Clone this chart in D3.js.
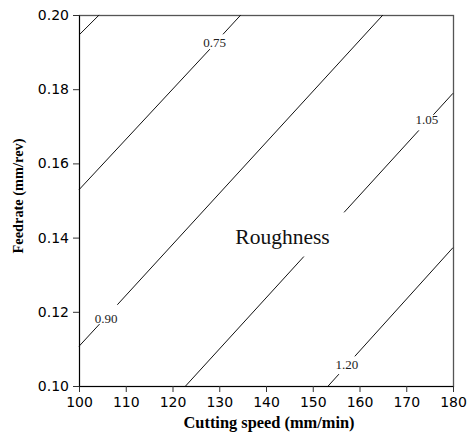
<!DOCTYPE html>
<html>
<head>
<meta charset="utf-8">
<script src="https://cdn.jsdelivr.net/npm/d3@7"></script>
<style>
  body { margin: 0; background: #fff; }
  svg { display: block; }
</style>
</head>
<body>
<div id="chart"></div>
<script>
// tick values
const speedTicks = [100, 110, 120, 130, 140, 150, 160, 170, 180];
const feedTicks = [0.10, 0.12, 0.14, 0.16, 0.18, 0.20];

// contour levels (roughness) and the points: [speed, feedrate]
// null = a break in the line (where a label sits)
const levels = ["0.60", "0.75", "0.90", "1.05", "1.20"];
const line060 = [[100, 0.1946], [104.3, 0.2]];
const line075 = [[100, 0.1529], [128.0, 0.1908], null, [130.8, 0.1948], [134.6, 0.2]];
const line090 = [[100, 0.1107], [104.4, 0.1167], null, [108.2, 0.1219], [165.0, 0.2]];
const line105 = [[122.8, 0.1], [148.1, 0.1349], null, [156.7, 0.1468], [172.7, 0.1689], null, [175.8, 0.1731], [180, 0.1789]];
const line120 = [[153.3, 0.1], [155.6, 0.1032], null, [159.0, 0.1080], [180, 0.1373]];
const contourLines = [line060, line075, line090, line105, line120];

// where the level labels sit: [speed, feedrate]
const labelLevels = ["0.75", "0.90", "1.05", "1.20"];
const labelSpots = [[129.0, 0.1927], [105.8, 0.1182], [174.4, 0.1718], [157.3, 0.1057]];

const W = 468, H = 437;
const margin = { top: 15, right: 15, bottom: 51, left: 79 };

const svg = d3.select("#chart")
  .append("svg")
  .attr("width", W)
  .attr("height", H);

const x = d3.scaleLinear().domain([100, 180]).range([margin.left, W - margin.right]);
const y = d3.scaleLinear().domain([0.10, 0.20]).range([H - margin.bottom, margin.top]);

// frame
svg.append("rect")
  .attr("x", x(100) + 0.5)
  .attr("y", y(0.2) + 0.5)
  .attr("width", x(180) - x(100))
  .attr("height", y(0.1) - y(0.2))
  .attr("fill", "none")
  .attr("stroke", "#555")
  .attr("stroke-width", 1.3);

// contour lines
const line = d3.line()
  .defined((d) => d !== null)
  .x((d) => x(d[0]))
  .y((d) => y(d[1]));

svg.append("g")
  .selectAll("path")
  .data(contourLines)
  .join("path")
  .attr("d", line)
  .attr("fill", "none")
  .attr("stroke", "#111")
  .attr("stroke-width", 1);

// level labels
svg.append("g")
  .selectAll("text")
  .data(labelLevels)
  .join("text")
  .attr("x", (d, i) => x(labelSpots[i][0]))
  .attr("y", (d, i) => y(labelSpots[i][1]))
  .attr("dy", "0.35em")
  .attr("text-anchor", "middle")
  .style("font-family", "'Liberation Serif', 'Times New Roman', serif")
  .style("font-size", "13px")
  .attr("fill", "#222")
  .text((d) => d);

// axes
const xAxis = svg.append("g")
  .attr("transform", `translate(0,${y(0.1)})`)
  .call(d3.axisBottom(x).tickValues(speedTicks).tickSize(6).tickPadding(5).tickSizeOuter(0));
const yAxis = svg.append("g")
  .attr("transform", `translate(${x(100)},0)`)
  .call(d3.axisLeft(y).tickValues(feedTicks).tickFormat(d3.format(".2f")).tickSize(6).tickPadding(4).tickSizeOuter(0));

[xAxis, yAxis].forEach((g) => {
  g.selectAll("text")
    .style("font-family", "'DejaVu Sans', Verdana, sans-serif")
    .style("font-size", "14px")
    .attr("fill", "#000");
  g.selectAll(".tick line").attr("stroke", "#333");
  g.select(".domain").attr("stroke", "#000");
});

// titles
svg.append("text")
  .attr("x", 269)
  .attr("y", 428)
  .attr("text-anchor", "middle")
  .style("font-family", "'Liberation Serif', 'Times New Roman', serif")
  .style("font-weight", "bold")
  .style("font-size", "17px")
  .attr("textLength", 171)
  .attr("lengthAdjust", "spacingAndGlyphs")
  .text("Cutting speed (mm/min)");

svg.append("text")
  .attr("transform", "translate(23,196) rotate(-90)")
  .attr("text-anchor", "middle")
  .style("font-family", "'Liberation Serif', 'Times New Roman', serif")
  .style("font-weight", "bold")
  .style("font-size", "15px")
  .attr("textLength", 115)
  .attr("lengthAdjust", "spacingAndGlyphs")
  .text("Feedrate (mm/rev)");

svg.append("text")
  .attr("x", 282.5)
  .attr("y", 244)
  .attr("text-anchor", "middle")
  .style("font-family", "'Liberation Serif', 'Times New Roman', serif")
  .style("font-size", "21.5px")
  .attr("fill", "#111")
  .text("Roughness");
</script>
</body>
</html>
